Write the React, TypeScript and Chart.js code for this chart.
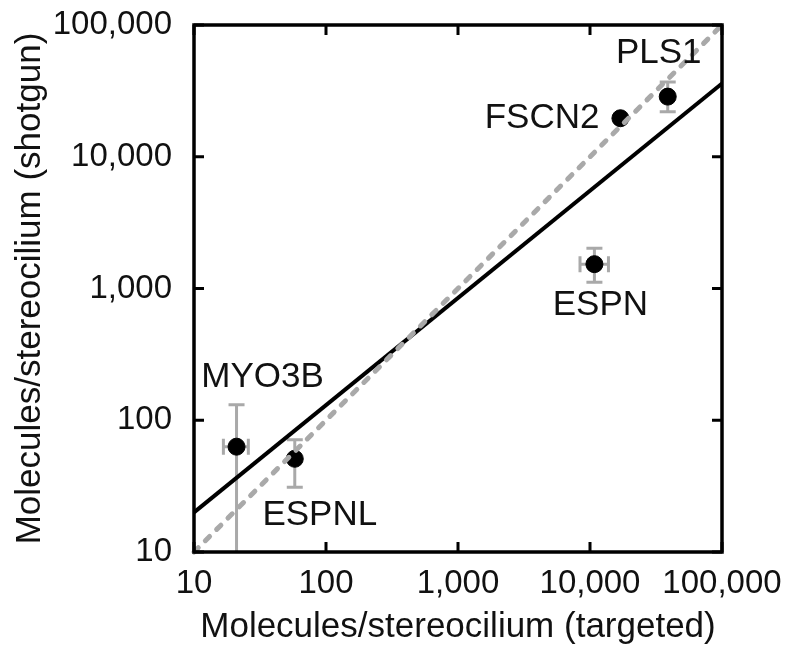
import React, { useEffect, useRef } from 'react';
import { Chart, registerables } from 'chart.js';

Chart.register(...registerables);

// ---- data ----
const genes = ['MYO3B', 'ESPNL', 'ESPN', 'FSCN2', 'PLS1'];
const targeted = [21, 58, 10800, 17000, 38800];
const shotgun = [63, 51, 1530, 19600, 28600];
const targetedLow: (number | null)[] = [16.7, null, 8400, null, null];
const targetedHigh: (number | null)[] = [25.8, null, 13800, null, null];
const shotgunLow: (number | null)[] = [10, 31, 1114, null, 22000];
const shotgunHigh: (number | null)[] = [131, 71, 2020, null, 37000];
const tickValues = [10, 100, 1000, 10000, 100000];
const fitX = [10, 100000];
const fitY = [20, 36000];
const identityX = [10, 100000];
const identityY = [10, 100000];

const FONT = '"Liberation Sans", Arial, Helvetica, sans-serif';
const GRAY = '#a9a9a9';

// label placement (pixel offsets from the point, style only)
const labelOffsets: Record<string, { dx: number; dy: number; align: CanvasTextAlign }> = {
  MYO3B: { dx: 26, dy: -69, align: 'center' },
  ESPNL: { dx: 25, dy: 57, align: 'center' },
  ESPN: { dx: 6, dy: 41, align: 'center' },
  FSCN2: { dx: -21, dy: 0, align: 'right' },
  PLS1: { dx: -9, dy: -43, align: 'center' },
};

const errorBarPlugin = {
  id: 'errorBars',
  beforeDatasetsDraw(chart: any) {
    const { ctx, scales, chartArea } = chart;
    const xs = scales.x;
    const ys = scales.y;
    const cap = 8;
    ctx.save();
    ctx.beginPath();
    ctx.rect(chartArea.left, chartArea.top, chartArea.right - chartArea.left, chartArea.bottom - chartArea.top);
    ctx.clip();
    ctx.strokeStyle = GRAY;
    ctx.lineWidth = 3;
    for (let i = 0; i < genes.length; i++) {
      const px = xs.getPixelForValue(targeted[i]);
      const py = ys.getPixelForValue(shotgun[i]);
      const yl = shotgunLow[i];
      const yh = shotgunHigh[i];
      if (yl != null && yh != null) {
        const a = ys.getPixelForValue(yl);
        const b = ys.getPixelForValue(yh);
        ctx.beginPath();
        ctx.moveTo(px, a);
        ctx.lineTo(px, b);
        ctx.moveTo(px - cap, b);
        ctx.lineTo(px + cap, b);
        if (yl > 10) {
          ctx.moveTo(px - cap, a);
          ctx.lineTo(px + cap, a);
        }
        ctx.stroke();
      }
      const xl = targetedLow[i];
      const xh = targetedHigh[i];
      if (xl != null && xh != null) {
        const a = xs.getPixelForValue(xl);
        const b = xs.getPixelForValue(xh);
        ctx.beginPath();
        ctx.moveTo(a, py);
        ctx.lineTo(b, py);
        ctx.moveTo(a, py - cap);
        ctx.lineTo(a, py + cap);
        ctx.moveTo(b, py - cap);
        ctx.lineTo(b, py + cap);
        ctx.stroke();
      }
    }
    ctx.restore();
  },
};

const labelPlugin = {
  id: 'pointLabels',
  afterDatasetsDraw(chart: any) {
    const { ctx, scales } = chart;
    ctx.save();
    ctx.fillStyle = '#111';
    ctx.font = `35px ${FONT}`;
    ctx.textBaseline = 'middle';
    for (let i = 0; i < genes.length; i++) {
      const o = labelOffsets[genes[i]];
      const px = scales.x.getPixelForValue(targeted[i]);
      const py = scales.y.getPixelForValue(shotgun[i]);
      ctx.textAlign = o.align;
      ctx.fillText(genes[i], px + o.dx, py + o.dy);
    }
    ctx.restore();
  },
};

const framePlugin = {
  id: 'frameTicks',
  afterDraw(chart: any) {
    const { ctx, chartArea, scales } = chart;
    const { left, right, top, bottom } = chartArea;
    const tl = 10;
    ctx.save();
    ctx.strokeStyle = '#000';
    ctx.lineWidth = 3;
    ctx.beginPath();
    for (const v of tickValues) {
      const x = scales.x.getPixelForValue(v);
      ctx.moveTo(x, bottom);
      ctx.lineTo(x, bottom - tl);
      ctx.moveTo(x, top);
      ctx.lineTo(x, top + tl);
      const y = scales.y.getPixelForValue(v);
      ctx.moveTo(left, y);
      ctx.lineTo(left + tl, y);
      ctx.moveTo(right, y);
      ctx.lineTo(right - tl, y);
    }
    ctx.stroke();
    ctx.lineWidth = 3.5;
    ctx.strokeRect(left, top, right - left, bottom - top);
    ctx.restore();
  },
};

const fmt = (v: any) => Number(v).toLocaleString('en-US');

export default function App() {
  const ref = useRef<HTMLCanvasElement | null>(null);
  useEffect(() => {
    if (!ref.current) return;
    const chart = new Chart(ref.current, {
      type: 'scatter',
      data: {
        datasets: [
          {
            type: 'line',
            label: 'identity',
            data: identityX.map((x, i) => ({ x, y: identityY[i] })),
            borderColor: GRAY,
            borderWidth: 5,
            borderDash: [6, 10],
            borderCapStyle: 'round',
            pointRadius: 0,
            fill: false,
            clip: 6,
          } as any,
          {
            type: 'line',
            label: 'fit',
            data: fitX.map((x, i) => ({ x, y: fitY[i] })),
            borderColor: '#000',
            borderWidth: 4,
            pointRadius: 0,
            fill: false,
          } as any,
          {
            label: 'proteins',
            data: targeted.map((x, i) => ({ x, y: shotgun[i] })),
            backgroundColor: '#000',
            borderColor: '#000',
            pointRadius: 8.5,
            pointHoverRadius: 8.5,
          },
        ],
      },
      options: {
        responsive: false,
        animation: false,
        events: [],
        layout: { padding: { left: 0, right: 66, top: 25, bottom: 0 } },
        plugins: { legend: { display: false }, tooltip: { enabled: false } },
        scales: {
          x: {
            type: 'logarithmic',
            min: 10,
            max: 100000,
            grid: { display: false },
            border: { display: false },
            afterBuildTicks: (s: any) => {
              s.ticks = tickValues.map((v) => ({ value: v }));
            },
            afterFit: (s: any) => {
              s.height = 96;
              s.paddingLeft = 0;
              s.paddingRight = 0;
            },
            ticks: {
              callback: fmt,
              color: '#111',
              font: { family: FONT, size: 33 },
              padding: 4,
              maxRotation: 0,
              autoSkip: false,
            },
            title: {
              display: true,
              text: 'Molecules/stereocilium (targeted)',
              color: '#111',
              font: { family: FONT, size: 35 },
              padding: { top: 0, bottom: 0 },
            },
          },
          y: {
            type: 'logarithmic',
            min: 10,
            max: 100000,
            grid: { display: false },
            border: { display: false },
            afterBuildTicks: (s: any) => {
              s.ticks = tickValues.map((v) => ({ value: v }));
            },
            afterFit: (s: any) => {
              s.width = 194;
              s.paddingTop = 0;
              s.paddingBottom = 0;
            },
            ticks: {
              callback: fmt,
              color: '#111',
              font: { family: FONT, size: 33 },
              padding: 14,
              autoSkip: false,
            },
            title: {
              display: true,
              text: 'Molecules/stereocilium (shotgun)',
              color: '#111',
              font: { family: FONT, size: 35 },
              padding: { top: 9, bottom: 0 },
            },
          },
        },
      },
      plugins: [errorBarPlugin, labelPlugin, framePlugin],
    });
    return () => chart.destroy();
  }, []);
  return (
    <canvas
      ref={ref}
      width={788}
      height={648}
      style={{ position: 'absolute', left: 0, top: 0, display: 'block', background: '#fff' }}
    />
  );
}
